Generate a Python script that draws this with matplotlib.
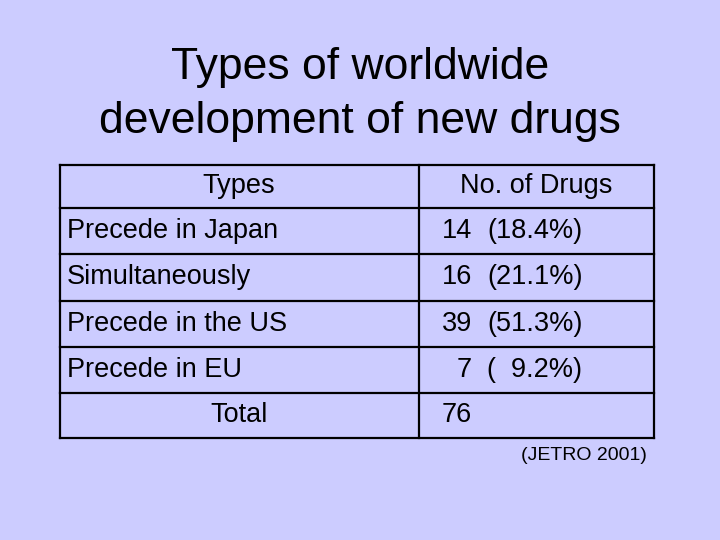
import matplotlib.pyplot as plt

types = ['Precede in Japan', 'Simultaneously', 'Precede in the US', 'Precede in EU']
counts = [14, 16, 39, 7]
shares = ['18.4%', '21.1%', '51.3%', '  9.2%']
total = 76

plt.rcParams['font.family'] = ['Liberation Sans', 'DejaVu Sans']
bg = '#ccccff'

fig = plt.figure(figsize=(7.2, 5.4), dpi=100, facecolor=bg)
ax = fig.add_axes([0, 0, 1, 1])
ax.set_xlim(0, 720)
ax.set_ylim(540, 0)
ax.axis('off')

ax.text(360, 68, 'Types of worldwide', ha='center', va='center', fontsize=32)
ax.text(360, 122, 'development of new drugs', ha='center', va='center', fontsize=32)

# table grid
rows = [165, 208, 254, 301, 347, 393, 438]
left, mid, right = 60, 419, 654
for y in rows:
    ax.plot([left, right], [y, y], color='black', lw=1.6)
for x in (left, mid, right):
    ax.plot([x, x], [rows[0], rows[-1]], color='black', lw=1.6)

fs = 19.5
ax.text(239, 186, 'Types', ha='center', va='center', fontsize=fs)
ax.text(536, 186, 'No. of Drugs', ha='center', va='center', fontsize=fs)
for i, (t, c, s) in enumerate(zip(types, counts, shares)):
    yc = (rows[i + 1] + rows[i + 2]) / 2
    ax.text(67, yc, t, ha='left', va='center', fontsize=fs)
    ax.text(472, yc, str(c), ha='right', va='center', fontsize=fs)
    ax.text(487, yc, f'({s})', ha='left', va='center', fontsize=fs)
ax.text(239, 415, 'Total', ha='center', va='center', fontsize=fs)
ax.text(472, 415, str(total), ha='right', va='center', fontsize=fs)

ax.text(647, 455, '(JETRO 2001)', ha='right', va='center', fontsize=14)

fig.savefig('out.png', facecolor=bg)
